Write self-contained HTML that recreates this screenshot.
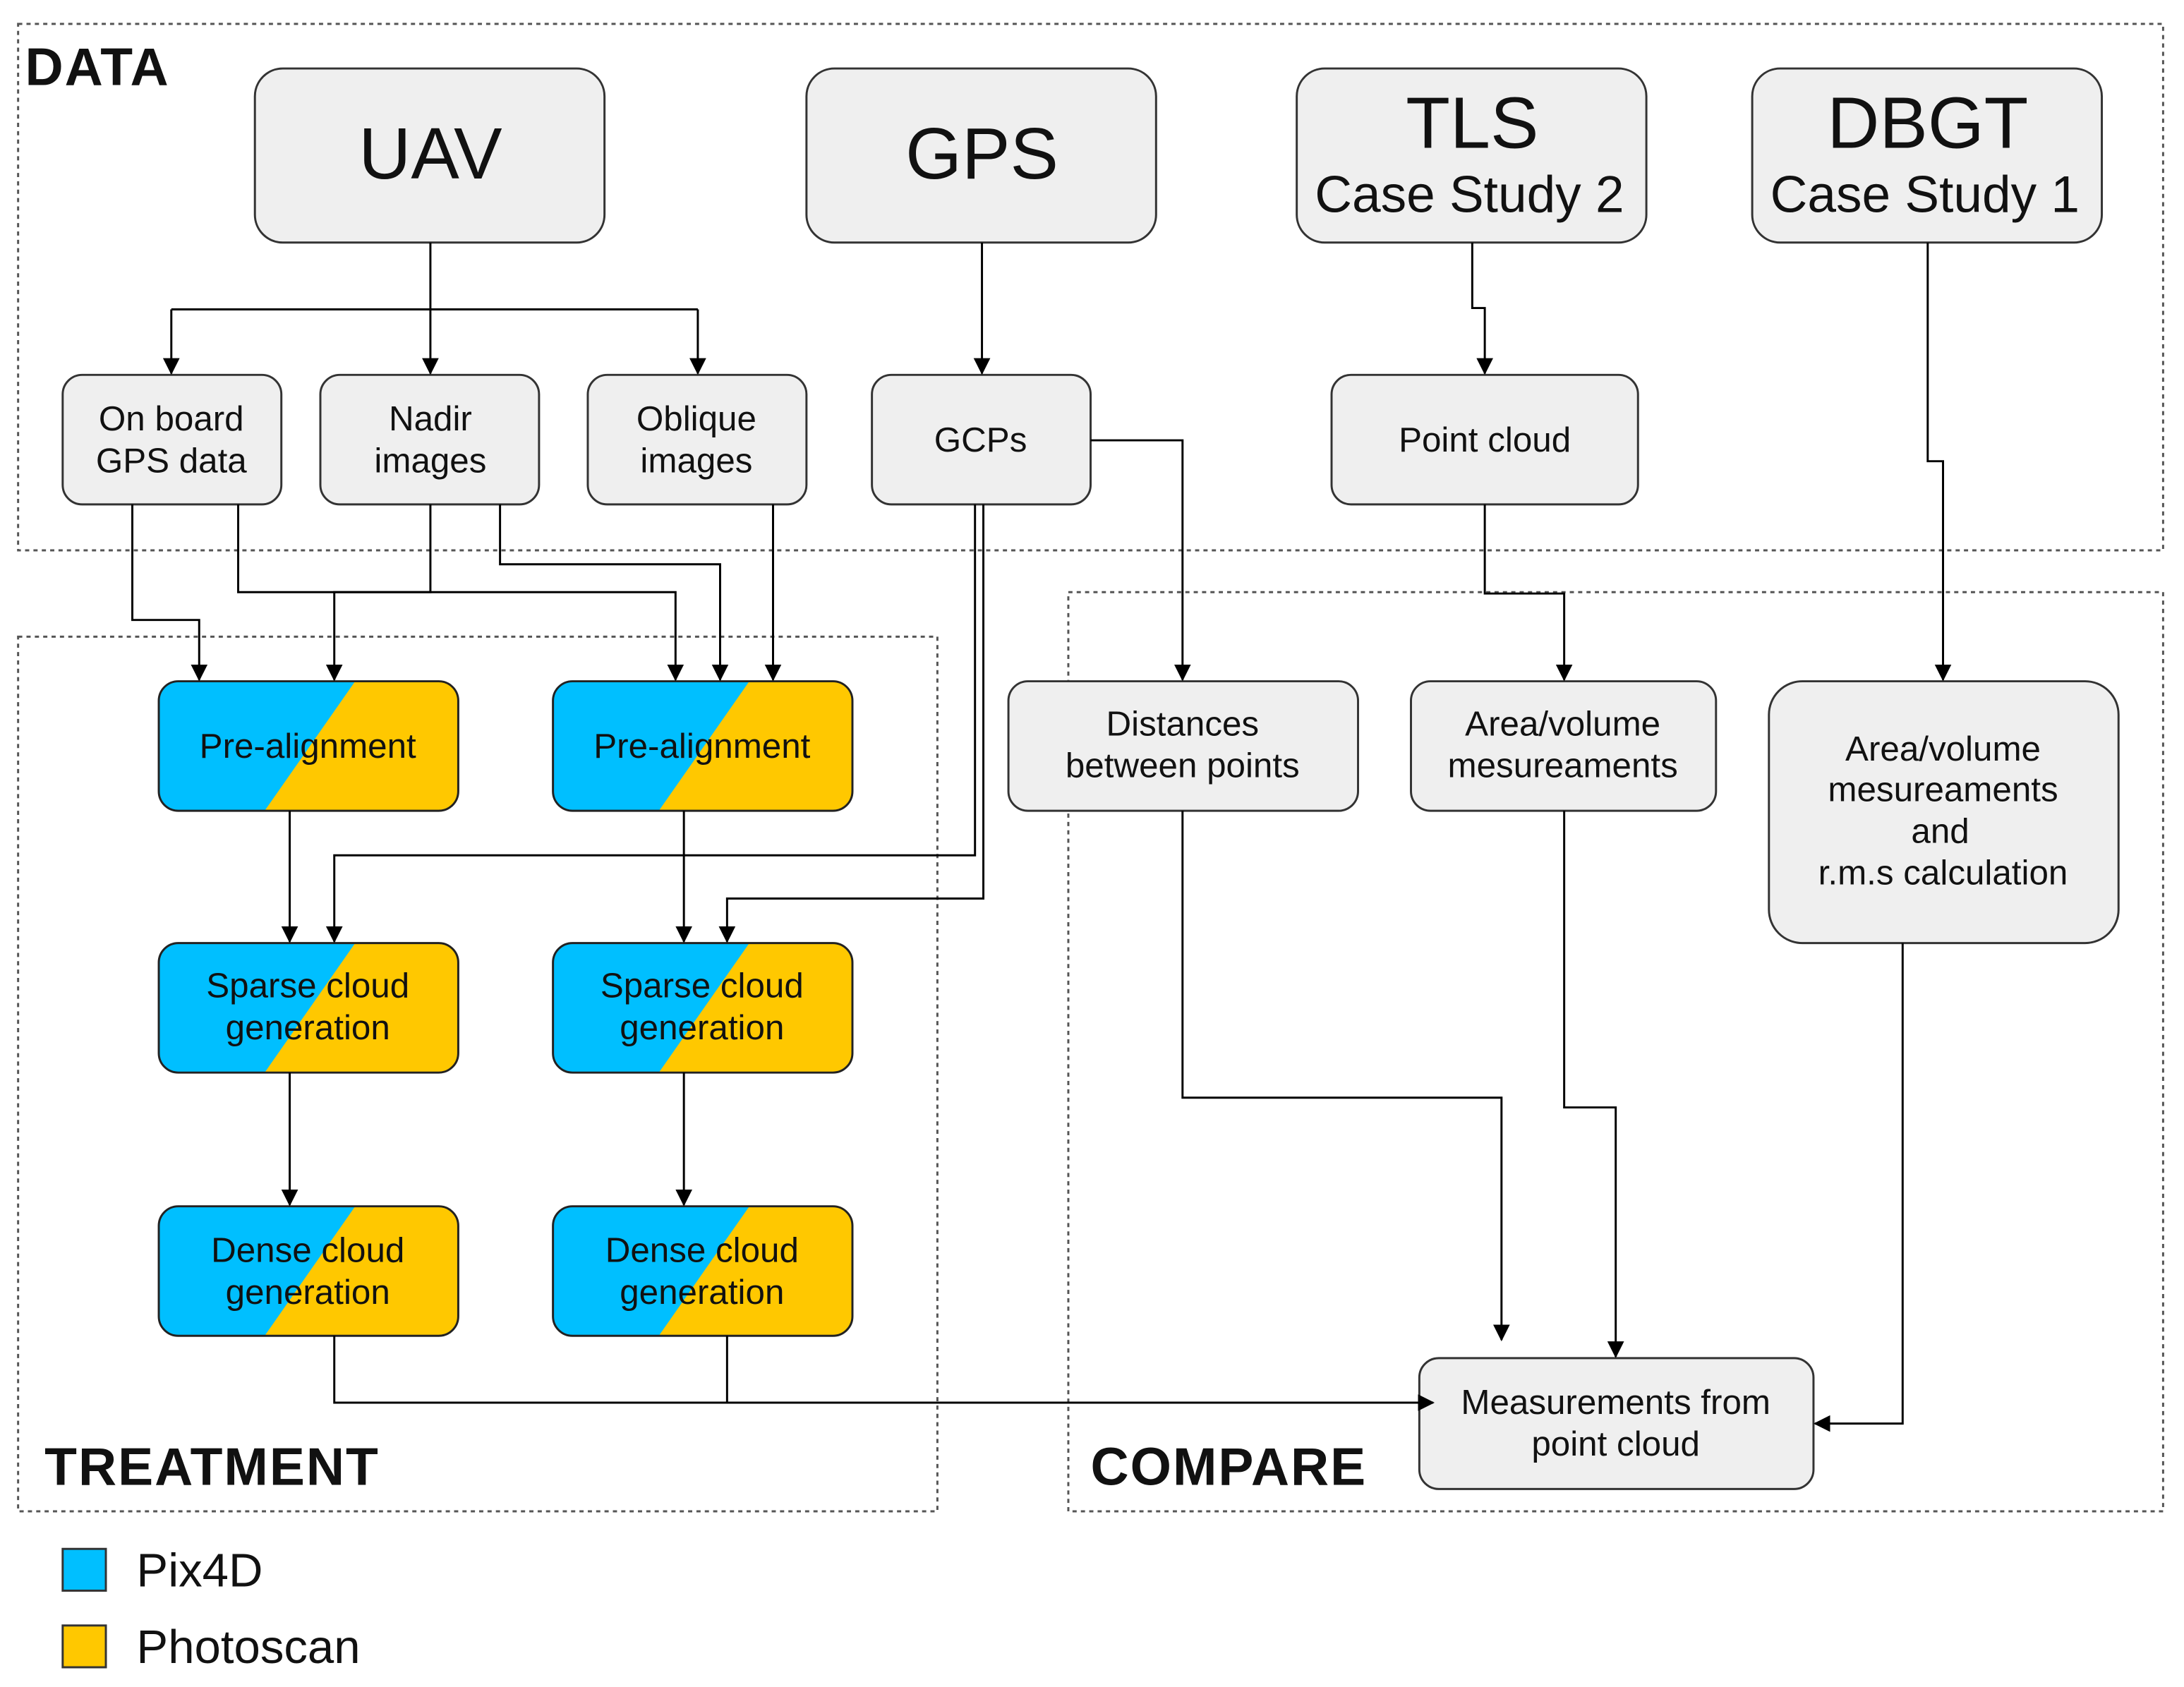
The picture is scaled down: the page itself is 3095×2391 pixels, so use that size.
<!DOCTYPE html>
<html><head><meta charset="utf-8"><style>
html,body{margin:0;padding:0;background:#fff}
svg{display:block}
text{font-family:"Liberation Sans",Arial,sans-serif;fill:#111}
</style></head><body>
<svg width="3095" height="2391" viewBox="0 0 1568 1211" xmlns="http://www.w3.org/2000/svg">
<defs>
<marker id="a" markerWidth="12" markerHeight="12" refX="11" refY="6" orient="auto" markerUnits="userSpaceOnUse" viewBox="0 0 12 12"><path d="M0,0 L12,6 L0,12 Z" fill="#000"/></marker>
<clipPath id="c"><rect x="0" y="0" width="215" height="93" rx="14"/></clipPath>
</defs>
<rect width="1568" height="1211" fill="#fff"/>
<g fill="none" stroke="#555" stroke-width="1.5" stroke-dasharray="3,3">
<rect x="13" y="17" width="1540" height="378"/>
<rect x="13" y="457" width="660" height="628"/>
<rect x="767" y="425" width="786" height="660"/>
</g>
<g font-size="38" font-weight="bold" letter-spacing="1">
<text x="18" y="61">DATA</text>
<text x="32" y="1066">TREATMENT</text>
<text x="783" y="1066">COMPARE</text>
</g>

<g fill="#efefef" stroke="#333" stroke-width="1.5">
<rect x="183" y="49" width="251" height="125" rx="20"/>
<rect x="579" y="49" width="251" height="125" rx="20"/>
<rect x="931" y="49" width="251" height="125" rx="20"/>
<rect x="1258" y="49" width="251" height="125" rx="20"/>
<rect x="45" y="269" width="157" height="93" rx="14"/>
<rect x="230" y="269" width="157" height="93" rx="14"/>
<rect x="422" y="269" width="157" height="93" rx="14"/>
<rect x="626" y="269" width="157" height="93" rx="14"/>
<rect x="956" y="269" width="220" height="93" rx="14"/>
<rect x="724" y="489" width="251" height="93" rx="14"/>
<rect x="1013" y="489" width="219" height="93" rx="14"/>
<rect x="1270" y="489" width="251" height="188" rx="24"/>
<rect x="1019" y="975" width="283" height="94" rx="14"/>
</g>
<g font-size="52" text-anchor="middle">
<text x="309" y="128">UAV</text>
<text x="705" y="128">GPS</text>
<text x="1057" y="106">TLS</text>
<text x="1384" y="106">DBGT</text>
</g>
<g font-size="37" text-anchor="middle">
<text x="1055" y="152">Case Study 2</text>
<text x="1382" y="152">Case Study 1</text>
</g>
<g font-size="25" text-anchor="middle">
<text x="123" y="309">On board</text><text x="123" y="339">GPS data</text>
<text x="309" y="309">Nadir</text><text x="309" y="339">images</text>
<text x="500" y="309">Oblique</text><text x="500" y="339">images</text>
<text x="704" y="324">GCPs</text>
<text x="1066" y="324">Point cloud</text>
<text x="849" y="528">Distances</text><text x="849" y="558">between points</text>
<text x="1122" y="528">Area/volume</text><text x="1122" y="558">mesureaments</text>
<text x="1395" y="546">Area/volume</text><text x="1395" y="575">mesureaments</text><text x="1393" y="605">and</text><text x="1395" y="635">r.m.s calculation</text>
<text x="1160" y="1015">Measurements from</text><text x="1160" y="1045">point cloud</text>
</g>

<g transform="translate(114,489)">
<g clip-path="url(#c)"><rect width="215" height="93" fill="#ffc800"/><polygon points="0,0 141,0 76,93 0,93" fill="#00bfff"/></g>
<rect width="215" height="93" rx="14" fill="none" stroke="#222" stroke-width="1.5"/></g>
<g transform="translate(397,489)">
<g clip-path="url(#c)"><rect width="215" height="93" fill="#ffc800"/><polygon points="0,0 141,0 76,93 0,93" fill="#00bfff"/></g>
<rect width="215" height="93" rx="14" fill="none" stroke="#222" stroke-width="1.5"/></g>
<g transform="translate(114,677)">
<g clip-path="url(#c)"><rect width="215" height="93" fill="#ffc800"/><polygon points="0,0 141,0 76,93 0,93" fill="#00bfff"/></g>
<rect width="215" height="93" rx="14" fill="none" stroke="#222" stroke-width="1.5"/></g>
<g transform="translate(397,677)">
<g clip-path="url(#c)"><rect width="215" height="93" fill="#ffc800"/><polygon points="0,0 141,0 76,93 0,93" fill="#00bfff"/></g>
<rect width="215" height="93" rx="14" fill="none" stroke="#222" stroke-width="1.5"/></g>
<g transform="translate(114,866)">
<g clip-path="url(#c)"><rect width="215" height="93" fill="#ffc800"/><polygon points="0,0 141,0 76,93 0,93" fill="#00bfff"/></g>
<rect width="215" height="93" rx="14" fill="none" stroke="#222" stroke-width="1.5"/></g>
<g transform="translate(397,866)">
<g clip-path="url(#c)"><rect width="215" height="93" fill="#ffc800"/><polygon points="0,0 141,0 76,93 0,93" fill="#00bfff"/></g>
<rect width="215" height="93" rx="14" fill="none" stroke="#222" stroke-width="1.5"/></g>
<g font-size="25" text-anchor="middle">
<text x="221" y="544">Pre-alignment</text><text x="504" y="544">Pre-alignment</text>
<text x="221" y="716">Sparse cloud</text><text x="221" y="746">generation</text>
<text x="504" y="716">Sparse cloud</text><text x="504" y="746">generation</text>
<text x="221" y="906">Dense cloud</text><text x="221" y="936">generation</text>
<text x="504" y="906">Dense cloud</text><text x="504" y="936">generation</text>
</g>

<g fill="none" stroke="#000" stroke-width="1.5">
<polyline points="309,174 309,222"/>
<polyline points="123,222 501,222"/>
<polyline points="123,222 123,268" marker-end="url(#a)"/>
<polyline points="309,222 309,268" marker-end="url(#a)"/>
<polyline points="501,222 501,268" marker-end="url(#a)"/>
<polyline points="705,174 705,268" marker-end="url(#a)"/>
<polyline points="1057,174 1057,221 1066,221 1066,268" marker-end="url(#a)"/>
<polyline points="1384,174 1384,331 1395,331 1395,488" marker-end="url(#a)"/>
<polyline points="95,362 95,445 143,445 143,488" marker-end="url(#a)"/>
<polyline points="309,362 309,425 240,425 240,488" marker-end="url(#a)"/>
<polyline points="359,362 359,405 517,405 517,488" marker-end="url(#a)"/>
<polyline points="171,362 171,425 485,425 485,488" marker-end="url(#a)"/>
<polyline points="555,362 555,488" marker-end="url(#a)"/>
<polyline points="783,316 849,316 849,488" marker-end="url(#a)"/>
<polyline points="700,362 700,614 240,614 240,676" marker-end="url(#a)"/>
<polyline points="706,362 706,645 522,645 522,676" marker-end="url(#a)"/>
<polyline points="208,582 208,676" marker-end="url(#a)"/>
<polyline points="491,582 491,676" marker-end="url(#a)"/>
<polyline points="208,770 208,865" marker-end="url(#a)"/>
<polyline points="491,770 491,865" marker-end="url(#a)"/>
<polyline points="240,959 240,1007 1029,1007" marker-end="url(#a)"/>
<polyline points="522,959 522,1007"/>
<polyline points="1066,362 1066,426 1123,426 1123,488" marker-end="url(#a)"/>
<polyline points="849,582 849,788 1078,788 1078,962" marker-end="url(#a)"/>
<polyline points="1123,582 1123,795 1160,795 1160,974" marker-end="url(#a)"/>
<polyline points="1366,677 1366,1022 1303,1022" marker-end="url(#a)"/>
</g>

<rect x="45" y="1112" width="31" height="30" fill="#00bfff" stroke="#333" stroke-width="1.5"/>
<rect x="45" y="1167" width="31" height="30" fill="#ffc800" stroke="#333" stroke-width="1.5"/>
<text x="98" y="1139" font-size="34">Pix4D</text>
<text x="98" y="1194" font-size="34">Photoscan</text>
</svg>
</body></html>
